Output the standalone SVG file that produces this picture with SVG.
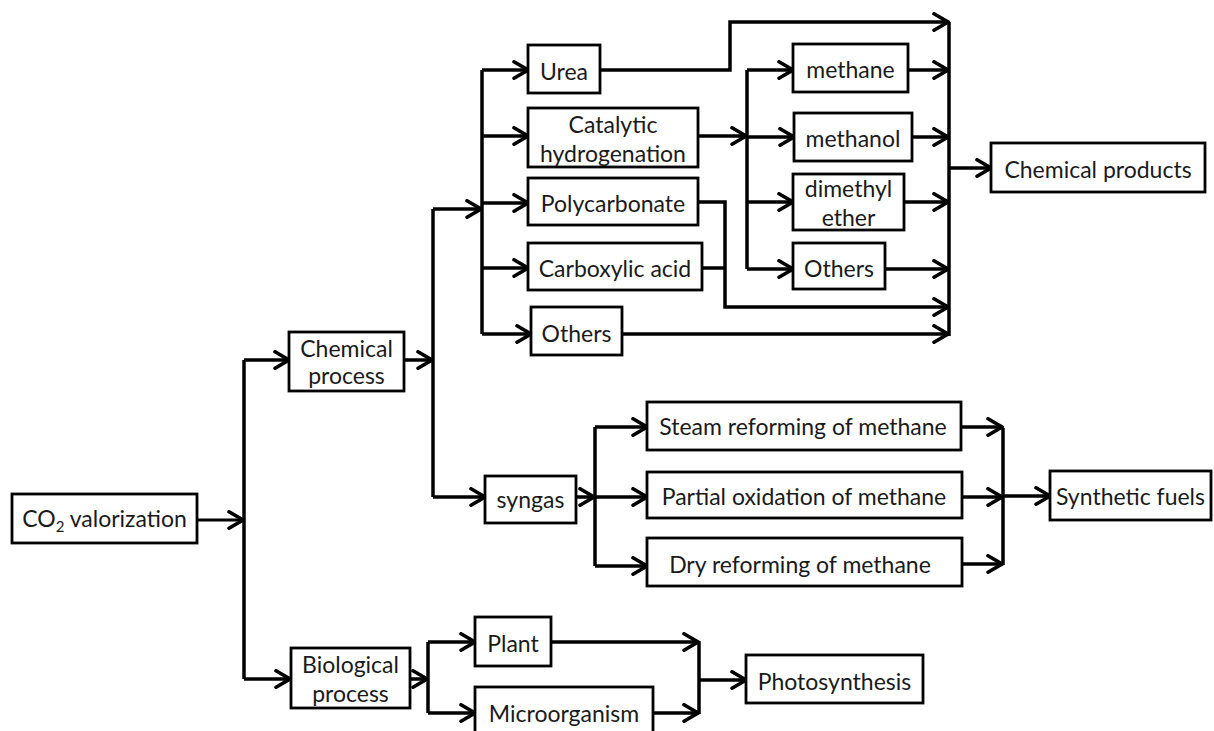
<svg xmlns="http://www.w3.org/2000/svg" width="1214" height="731" viewBox="0 0 1214 731">
<style>
.box{fill:#fff;stroke:#000;stroke-width:2.8}
.t{font-family:Lato,"Open Sans","Liberation Sans",sans-serif;font-size:23px;fill:#1a1a1a;text-anchor:middle}
.c{fill:none;stroke:#000;stroke-width:3.5;stroke-linejoin:miter}
.a{marker-end:url(#ah)}
</style>
<defs>
<marker id="ah" markerUnits="userSpaceOnUse" viewBox="0 0 18 20" markerWidth="18" markerHeight="20" refX="16" refY="10" orient="auto">
<path d="M2,1.8 L16,10 L2,18.2" fill="none" stroke="#000" stroke-width="3.6" stroke-linecap="round"/>
</marker>
</defs>
<rect width="1214" height="731" fill="#fff"/>
<g id="connectors">
<path class="c a" d="M197,520 H243" style="stroke-width:2.8"/>
<path class="c" d="M244,360 V679"/>
<path class="c a" d="M244,360 H289"/>
<path class="c a" d="M244,679 H290"/>
<path class="c a" d="M404,360 H432"/>
<path class="c" d="M433,209 V497"/>
<path class="c a" d="M433,209 H481"/>
<path class="c a" d="M433,497 H485"/>
<path class="c" d="M482,70 V334"/>
<path class="c a" d="M482,70 H528"/>
<path class="c a" d="M482,136 H528"/>
<path class="c a" d="M482,203 H528"/>
<path class="c a" d="M482,268 H528"/>
<path class="c a" d="M482,334 H531"/>
<path class="c a" d="M600,70 H730 V22 H948"/>
<path class="c a" d="M698,136 H746"/>
<path class="c" d="M747,70 V269"/>
<path class="c a" d="M747,70 H793"/>
<path class="c a" d="M747,137 H794"/>
<path class="c a" d="M747,202 H793"/>
<path class="c a" d="M747,269 H793"/>
<path class="c a" d="M908,70 H948"/>
<path class="c a" d="M912,137 H948"/>
<path class="c a" d="M904,202 H948"/>
<path class="c a" d="M885,269 H948"/>
<path class="c a" d="M698,202 H725 V307 H948"/>
<path class="c" d="M702,268 H725"/>
<path class="c a" d="M622,334 H948"/>
<path class="c" d="M949,22 V336"/>
<path class="c a" d="M949,168 H991"/>
<path class="c a" d="M576,497 H594"/>
<path class="c" d="M595,427 V566"/>
<path class="c a" d="M595,427 H647"/>
<path class="c a" d="M595,497 H647"/>
<path class="c a" d="M595,566 H647"/>
<path class="c a" d="M961,427 H1002"/>
<path class="c a" d="M962,497 H1002"/>
<path class="c a" d="M962,564 H1002"/>
<path class="c" d="M1003,428 V565"/>
<path class="c a" d="M1003,496 H1050"/>
<path class="c a" d="M410,679 H427"/>
<path class="c" d="M428,642 V713"/>
<path class="c a" d="M428,642 H475"/>
<path class="c a" d="M428,713 H475"/>
<path class="c a" d="M551,642 H698"/>
<path class="c a" d="M653,713 H698"/>
<path class="c" d="M699,641 V714"/>
<path class="c a" d="M699,680 H746"/>
</g>
<g id="co2"><rect class="box" x="12" y="494" width="185" height="49"/><text class="t" x="104.5" y="527">CO<tspan font-size="15" dy="5">2</tspan><tspan dy="-5"> valorization</tspan></text></g>
<g id="chemical-process"><rect class="box" x="289" y="332" width="115" height="59"/><text class="t" x="346.5" y="357">Chemical</text><text class="t" x="346.5" y="384">process</text></g>
<g id="biological-process"><rect class="box" x="291" y="648" width="119" height="60"/><text class="t" x="350.5" y="673">Biological</text><text class="t" x="350.5" y="702">process</text></g>
<g id="urea"><rect class="box" x="528" y="45" width="72" height="48"/><text class="t" x="564" y="80">Urea</text></g>
<g id="catalytic"><rect class="box" x="528" y="108" width="170" height="59"/><text class="t" x="613" y="133">Catalytic</text><text class="t" x="613" y="162">hydrogenation</text></g>
<g id="polycarbonate"><rect class="box" x="528" y="178" width="170" height="47"/><text class="t" x="613" y="212">Polycarbonate</text></g>
<g id="carboxylic"><rect class="box" x="528" y="243" width="174" height="47"/><text class="t" x="615" y="277">Carboxylic acid</text></g>
<g id="others1"><rect class="box" x="531" y="307" width="91" height="48"/><text class="t" x="576.5" y="342">Others</text></g>
<g id="methane"><rect class="box" x="793" y="44" width="115" height="48"/><text class="t" x="850.5" y="78">methane</text></g>
<g id="methanol"><rect class="box" x="794" y="113" width="118" height="48"/><text class="t" x="853" y="147">methanol</text></g>
<g id="dme"><rect class="box" x="793" y="174" width="111" height="56"/><text class="t" x="848.5" y="197">dimethyl</text><text class="t" x="848.5" y="226">ether</text></g>
<g id="others2"><rect class="box" x="793" y="243" width="92" height="46"/><text class="t" x="839" y="277">Others</text></g>
<g id="chemical-products"><rect class="box" x="991" y="143" width="214" height="49"/><text class="t" x="1098" y="178">Chemical products</text></g>
<g id="syngas"><rect class="box" x="485" y="476" width="91" height="47"/><text class="t" x="530.5" y="508">syngas</text></g>
<g id="steam"><rect class="box" x="647" y="402" width="314" height="48"/><text class="t" x="803" y="435">Steam reforming of methane</text></g>
<g id="partial"><rect class="box" x="647" y="472" width="315" height="46"/><text class="t" x="804" y="505">Partial oxidation of methane</text></g>
<g id="dry"><rect class="box" x="647" y="538" width="315" height="48"/><text class="t" x="800" y="573">Dry reforming of methane</text></g>
<g id="synthetic-fuels"><rect class="box" x="1050" y="471" width="161" height="49"/><text class="t" x="1130.5" y="505">Synthetic fuels</text></g>
<g id="plant"><rect class="box" x="475" y="617" width="76" height="49"/><text class="t" x="513" y="652">Plant</text></g>
<g id="microorganism"><rect class="box" x="475" y="687" width="178" height="56"/><text class="t" x="564" y="722">Microorganism</text></g>
<g id="photosynthesis"><rect class="box" x="746" y="655" width="177" height="48"/><text class="t" x="834.5" y="690">Photosynthesis</text></g>
</svg>
